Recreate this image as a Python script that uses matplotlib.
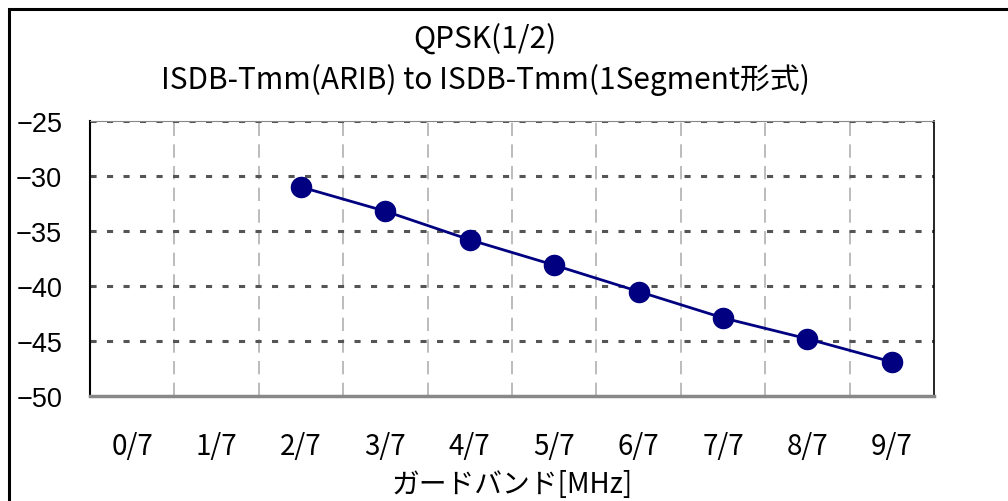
import numpy as np
import matplotlib
matplotlib.use("Agg")
import matplotlib.pyplot as plt
from matplotlib.patches import Rectangle

plt.rcParams['font.family'] = ['Noto Sans CJK JP', 'DejaVu Sans']

# data
categories = ["0/7", "1/7", "2/7", "3/7", "4/7", "5/7", "6/7", "7/7", "8/7", "9/7"]
point_labels = ["2/7", "3/7", "4/7", "5/7", "6/7", "7/7", "8/7", "9/7"]
values = [-31.0, -33.2, -35.8, -38.1, -40.5, -42.9, -44.8, -46.9]
y_ticks = [-25, -30, -35, -40, -45, -50]

fig = plt.figure(figsize=(10.08, 5.02), dpi=100)
ax = fig.add_axes([90 / 1008, 1 - 397 / 502, 844 / 1008, 275 / 502])

xpos = [categories.index(c) for c in point_labels]
ax.plot(xpos, values, color='#000080', lw=2, marker='o', ms=14.5,
        markerfacecolor='#000080', markeredgecolor='#000080', zorder=5)

ax.set_xlim(-0.5, len(categories) - 0.5)
ax.set_ylim(-50, -25)
ax.set_xticks(range(len(categories)))
ax.set_xticklabels(categories, fontsize=20)
ax.set_yticks(y_ticks)
ax.set_yticklabels(["\u2212%d" % abs(v) for v in y_ticks], family='Liberation Sans', fontsize=19.5)
ax.tick_params(axis='x', length=0, pad=25)
ax.tick_params(axis='y', length=0, pad=20)

# gridlines: horizontal dotted, vertical light dashed at category borders
for v in y_ticks[:-1]:
    ax.axhline(v, color='#555555', lw=2.2, ls=(0, (2, 3.4)), zorder=2)
ax.set_xticks(np.arange(0.5, len(categories) - 0.5), minor=True)
ax.tick_params(axis='x', which='minor', length=0)
ax.grid(True, which='minor', axis='x', color='#b0b0b0', lw=1.2, ls=(0, (8, 5)))

ax.spines['left'].set_color('black')
ax.spines['left'].set_linewidth(1.5)
ax.spines['right'].set_color('black')
ax.spines['right'].set_linewidth(1.2)
ax.spines['bottom'].set_color('#888888')
ax.spines['bottom'].set_linewidth(2.5)
ax.spines['top'].set_color('#888888')
ax.spines['top'].set_linewidth(0.8)

ax.set_xlabel("ガードバンド[MHz]", fontsize=20, labelpad=6)

fig.text(485 / 1008, 1 - 40 / 502, "QPSK(1/2)", ha='center', va='center', fontsize=21.5)
fig.text(485 / 1008, 1 - 80 / 502, "ISDB-Tmm(ARIB) to ISDB-Tmm(1Segment形式)",
         ha='center', va='center', fontsize=21.5)

# outer chart frame
fig.patches.append(Rectangle((8.5 / 1008, -0.1), 1.2, 1.1 - 9.5 / 502, transform=fig.transFigure,
                             fill=False, ec='black', lw=2.2))

fig.savefig("out.png", dpi=100)
